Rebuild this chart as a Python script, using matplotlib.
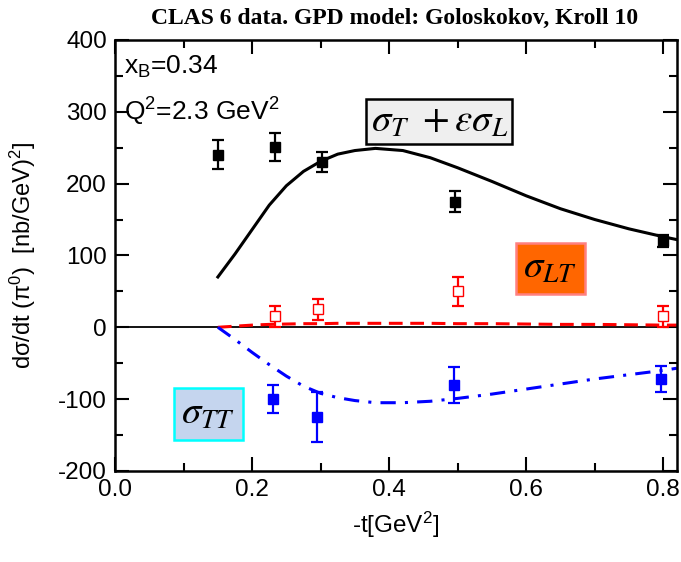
import matplotlib
matplotlib.use("Agg")
import matplotlib.pyplot as plt
from matplotlib.ticker import MultipleLocator, FormatStrFormatter

plt.rcParams['font.family'] = ['Liberation Sans', 'DejaVu Sans']
plt.rcParams['mathtext.fontset'] = 'stix'
plt.rcParams['mathtext.rm'] = 'Liberation Sans'
plt.rcParams['mathtext.sf'] = 'Liberation Sans'
plt.rcParams['mathtext.it'] = 'Liberation Sans:italic'
plt.rcParams['axes.unicode_minus'] = False

# --- data ---
t_black = [0.150, 0.234, 0.302, 0.496, 0.799]
y_black = [240, 251, 230, 175, 120]
e_black = [20, 20, 14, 14, 8]

t_red = [0.234, 0.296, 0.500, 0.799]
y_red = [15, 25, 50, 15]
e_red = [14, 15, 20, 15]

t_blue = [0.231, 0.294, 0.494, 0.797]
y_blue = [-100, -125, -80, -72]
e_blue = [20, 35, 25, 18]

t_model = [0.15, 0.175, 0.20, 0.225, 0.25, 0.275, 0.30, 0.325, 0.35, 0.38, 0.42, 0.46, 0.50,
           0.55, 0.60, 0.65, 0.70, 0.75, 0.80, 0.82]
sig_T_L = [70, 102, 136, 170, 197, 217, 231, 241, 246, 249, 246, 236, 222,
           203, 183, 165, 150, 137, 126, 122]
sig_LT = [0, 1.5, 3, 4, 4.5, 5, 5, 5.5, 5.5, 5.5, 5.5, 5.5, 5,
          5, 4.5, 4, 4, 3.5, 3, 3]
sig_TT = [0, -17, -35, -52, -68, -82, -92, -98, -102, -105, -105, -103, -99,
          -93, -86, -79, -72, -66, -60, -57]

fig = plt.figure(figsize=(6.81, 5.62), dpi=100)
ax = fig.add_axes([0.169, 0.162, 0.825, 0.767])

ax.axhline(0, color='black', lw=1.3, zorder=1)

ax.plot(t_model, sig_T_L, color='black', lw=2.2)
ax.plot(t_model, sig_LT, color='red', lw=2.2, dashes=(4.5, 2.5))
ax.plot(t_model, sig_TT, color='blue', lw=2.2, dashes=(5, 3, 1, 3))

ax.errorbar(t_black, y_black, yerr=e_black, fmt='s', color='black', ms=7.5,
            capsize=4, elinewidth=1.6, capthick=1.6)
ax.errorbar(t_red, y_red, yerr=e_red, fmt='s', color='red', mfc='white', mec='red', ms=7.5,
            capsize=4, elinewidth=1.6, capthick=1.6)
ax.errorbar(t_blue, y_blue, yerr=e_blue, fmt='s', color='blue', ms=7.5,
            capsize=4, elinewidth=1.6, capthick=1.6)

ax.set_xlim(0, 0.82)
ax.set_ylim(-200, 400)
ax.xaxis.set_major_locator(MultipleLocator(0.2))
ax.xaxis.set_minor_locator(MultipleLocator(0.1))
ax.yaxis.set_major_locator(MultipleLocator(100))
ax.yaxis.set_minor_locator(MultipleLocator(50))
ax.xaxis.set_major_formatter(FormatStrFormatter('%.1f'))
ax.tick_params(which='both', direction='in', top=True, right=True, width=1.5)
ax.tick_params(which='major', length=10, labelsize=17.5, pad=6)
ax.tick_params(which='minor', length=6)
for s in ax.spines.values():
    s.set_linewidth(1.8)

ax.set_xlabel(r'-t[GeV$^{\mathrm{2}}$]', fontsize=17.5, labelpad=6, math_fontfamily='custom')
ax.set_ylabel('dσ/dt (π$^{\\mathrm{0}}$)  [nb/GeV)$^{\\mathrm{2}}$]', fontsize=17,
              labelpad=14, math_fontfamily='custom')

fig.text(0.58, 0.968, 'CLAS 6 data. GPD model: Goloskokov, Kroll 10', ha='center', va='center',
         fontsize=17, fontweight='bold', family='Liberation Serif')

ax.text(0.013, 362, r'x$_{\mathrm{B}}$=0.34', fontsize=19, va='center', math_fontfamily='custom')
ax.text(0.013, 300, r'Q$^{\mathrm{2}}$=2.3 GeV$^{\mathrm{2}}$', fontsize=19, va='center',
        math_fontfamily='custom')

ax.text(0.473, 286, r'$\sigma_T\ +\varepsilon\sigma_L$', fontsize=28, va='center', ha='center',
        bbox=dict(boxstyle='square,pad=0.12', fc='#efefef', ec='black', lw=1.8))
ax.text(0.635, 82, r'$\sigma_{LT}$', fontsize=28, va='center', ha='center',
        bbox=dict(boxstyle='square,pad=0.2', fc='#ff6600', ec='#ff8080', lw=1.8))
ax.text(0.136, -121, r'$\sigma_{TT}$', fontsize=28, va='center', ha='center',
        bbox=dict(boxstyle='square,pad=0.2', fc='#c5d5ee', ec='cyan', lw=1.8))

fig.savefig('out.png', dpi=100)
